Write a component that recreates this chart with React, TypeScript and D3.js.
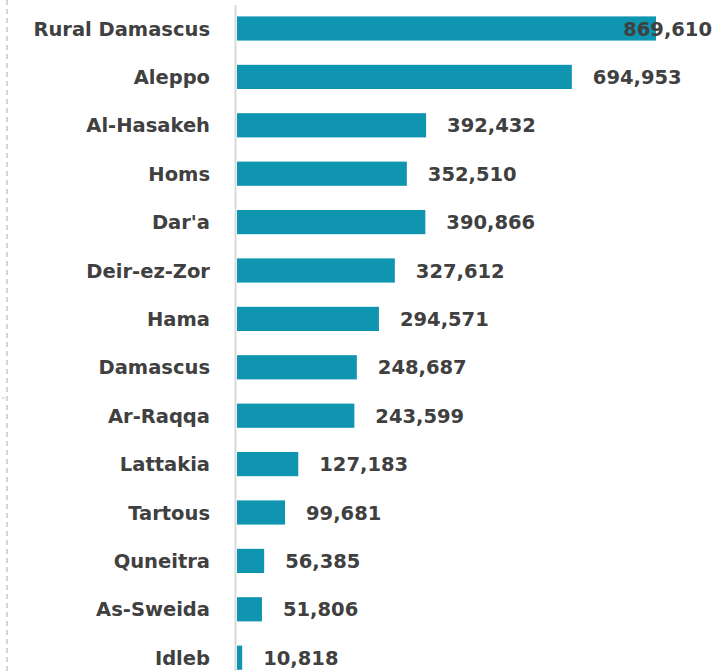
import React from "react";
import * as d3 from "d3";

const categories = ["Rural Damascus", "Aleppo", "Al-Hasakeh", "Homs", "Dar'a", "Deir-ez-Zor", "Hama", "Damascus", "Ar-Raqqa", "Lattakia", "Tartous", "Quneitra", "As-Sweida", "Idleb"];
const values = [869610, 694953, 392432, 352510, 390866, 327612, 294571, 248687, 243599, 127183, 99681, 56385, 51806, 10818];

const W = 712, H = 671;
const FONT = "'DejaVu Sans', sans-serif";

export default function App() {
  const x = d3.scaleLinear().domain([0, 869610]).range([237, 656]);
  const step = 48.4;
  const top = 4.3;
  const y = d3.scaleBand<string>().domain(categories).range([top, top + categories.length * step]).paddingInner(0.5).paddingOuter(0.25);
  const fmt = d3.format(",");
  return (
    <svg width={W} height={H} style={{ position: "absolute", left: 0, top: 0, background: "#fff" }}>
      <line x1={7} x2={7} y1={0} y2={H} stroke="#c8c8c8" strokeWidth={1.5} strokeDasharray="5,4" />
      <line x1={2} x2={5} y1={398} y2={398} stroke="#c8c8c8" strokeWidth={1} />
      {categories.map((c, i) => {
        const v = values[i];
        const yy = y(c)!;
        const bw = y.bandwidth();
        const xe = x(v);
        const txt = fmt(v);
        const overflow = xe + 21 + 90 > W;
        return (
          <g key={c}>
            <rect x={x(0)} y={yy} width={xe - x(0)} height={bw} fill="#0f95b0" />
            <text x={210} y={yy + bw / 2} dy="0.36em" textAnchor="end" fontFamily={FONT} fontWeight={700} fontSize={19.5} fill="#404040">{c}</text>
            <text x={overflow ? W : xe + 21} y={yy + bw / 2} dy="0.36em" textAnchor={overflow ? "end" : "start"} fontFamily={FONT} fontWeight={700} fontSize={19.5} fill="#404040">{txt}</text>
          </g>
        );
      })}
      <line x1={235.5} x2={235.5} y1={5} y2={H} stroke="#d9d9d9" strokeWidth={2} />
    </svg>
  );
}
